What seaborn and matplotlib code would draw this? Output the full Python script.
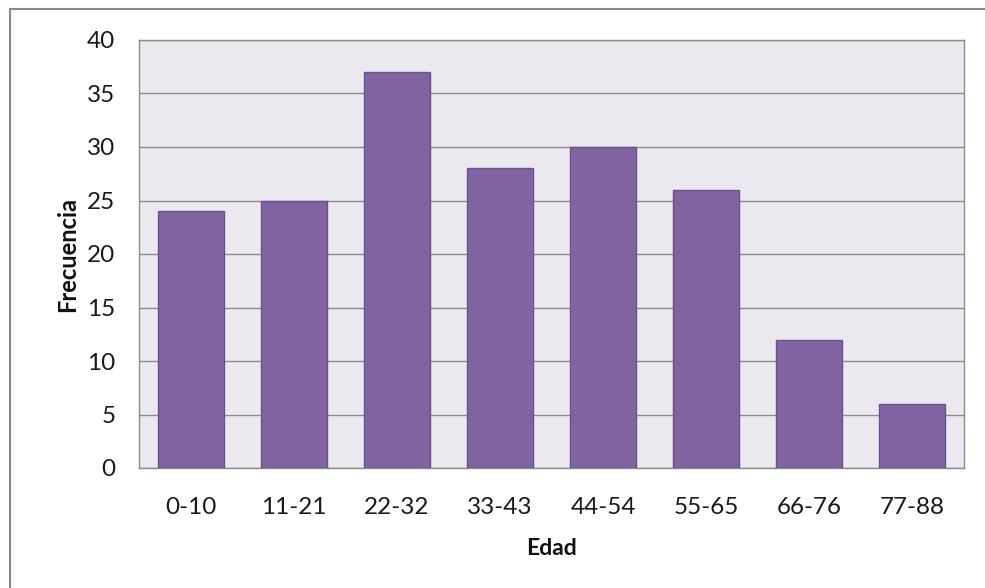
import matplotlib
matplotlib.use("Agg")
import matplotlib.pyplot as plt
import seaborn as sns
import pandas as pd
from matplotlib.patches import Rectangle

categorias = ["0-10", "11-21", "22-32", "33-43", "44-54", "55-65", "66-76", "77-88"]
frecuencias = [24, 25, 37, 28, 30, 26, 12, 6]
yticks = [0, 5, 10, 15, 20, 25, 30, 35, 40]

df = pd.DataFrame({"Edad": categorias, "Frecuencia": frecuencias})

sns.set_theme(style="white")
plt.rcParams["font.family"] = ["Lato", "DejaVu Sans"]

fig = plt.figure(figsize=(9.85, 5.88), dpi=100)
ax = fig.add_axes([139/985, 1 - 468/588, (964-139)/985, (468-40)/588])

sns.barplot(data=df, x="Edad", y="Frecuencia", ax=ax, color="#8064A2",
            saturation=1, width=0.64, edgecolor="#6B5090", linewidth=1.0, zorder=3)

ax.set_facecolor("#EBE9EF")
ax.set_ylim(0, 40)
ax.set_xlim(-0.5, len(categorias) - 0.5)
ax.set_yticks(yticks)
ax.yaxis.grid(True, color="#8C8C8C", linewidth=1.0, zorder=0)
ax.set_axisbelow(True)
for s in ax.spines.values():
    s.set_color("#8C8C8C")
    s.set_linewidth(1.0)
ax.tick_params(axis="both", length=0, labelsize=17.5, colors="#1a1a1a")
ax.tick_params(axis="y", pad=17)
ax.tick_params(axis="x", pad=21)
ax.set_xlabel("Edad", fontsize=16.5, fontweight="bold", labelpad=14, color="#111111")
ax.set_ylabel("Frecuencia", fontsize=17, fontweight="bold", labelpad=6, color="#111111")

fig.patches.append(Rectangle((10/985, -0.1), 1.2, 1 - 9/588 + 0.1,
                             transform=fig.transFigure, fill=False,
                             edgecolor="#888888", linewidth=1.5))

fig.savefig("out.png", dpi=100)
